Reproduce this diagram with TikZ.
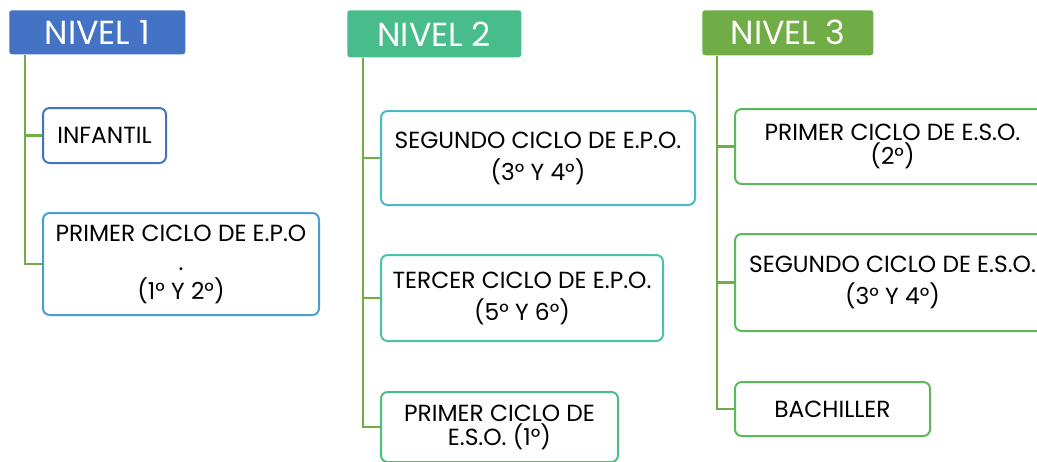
\documentclass[tikz,border=0pt]{standalone}
\usepackage{fontspec}
\setmainfont{Poppins}
\usetikzlibrary{positioning}
\definecolor{nvblue}{HTML}{4472C4}
\definecolor{nvteal}{HTML}{48BD8B}
\definecolor{nvgreen}{HTML}{70AD47}
\definecolor{bxsky}{HTML}{4A9ED0}
\definecolor{bxcyan}{HTML}{4BB8C8}
\definecolor{bxmint}{HTML}{4BC1A5}
\definecolor{bxjade}{HTML}{4CBD7F}
\definecolor{bxleaf}{HTML}{5DB85B}

\begin{document}
\begin{tikzpicture}[x=0.75pt,y=-0.75pt,
  nivel/.style={fill=#1, text=white, anchor=north west, rounded corners=2pt,
    inner sep=0pt, font=\fontsize{25}{28}\selectfont},
  ciclo/.style={draw=#1, line width=1.5pt, fill=white, anchor=north west,
    rounded corners=5pt, inner sep=0pt, align=center,
    font=\fontsize{17.5}{24}\selectfont},
  rama/.style={draw=nvgreen, line width=1.6pt}]
\useasboundingbox (0,0) rectangle (1037,461);
% Cabeceras de nivel
\node[nivel=nvblue, minimum width=176*0.75pt, minimum height=44*0.75pt] (n1) at (9,10) {NIVEL 1};
\node[nivel=nvteal, minimum width=174*0.75pt, minimum height=47*0.75pt] (n2) at (347,10) {NIVEL 2};
\node[nivel=nvgreen, minimum width=171*0.75pt, minimum height=45*0.75pt] (n3) at (702,10) {NIVEL 3};
% Nivel 1
\node[ciclo=nvblue, minimum width=123*0.75pt, minimum height=55*0.75pt] (inf) at (42,107) {INFANTIL};
\node[ciclo=bxsky, minimum width=276*0.75pt, minimum height=102*0.75pt,
      font=\fontsize{17.5}{21.75}\selectfont] (epo1) at (42,212) {PRIMER CICLO DE E.P.O\\.\\(1° Y 2°)};
% Nivel 2
\node[ciclo=bxcyan, minimum width=314*0.75pt, minimum height=94*0.75pt] (epo2) at (380,110) {SEGUNDO CICLO DE E.P.O.\\(3° Y 4°)};
\node[ciclo=bxmint, minimum width=282*0.75pt, minimum height=86*0.75pt] (epo3) at (380,254) {TERCER CICLO DE E.P.O.\\(5° Y 6°)};
\node[ciclo=bxjade, minimum width=237*0.75pt, minimum height=70*0.75pt,
      font=\fontsize{17.5}{18}\selectfont] (eso1) at (380,391) {PRIMER CICLO DE\\E.S.O. (1°)};
% Nivel 3
\node[ciclo=bxleaf, minimum width=315*0.75pt, minimum height=75*0.75pt,
      font=\fontsize{17.5}{18}\selectfont] (eso2) at (734,108) {PRIMER CICLO DE E.S.O.\\(2°)};
\node[ciclo=bxleaf, minimum width=315*0.75pt, minimum height=97*0.75pt] (eso34) at (734,233) {SEGUNDO CICLO DE E.S.O.\\(3° Y 4°)};
\node[ciclo=bxleaf, minimum width=195*0.75pt, minimum height=54*0.75pt] (bach) at (734,381) {BACHILLER};
% Troncos y ramas
\coordinate (t1) at ([xshift=12pt]n1.south west);
\coordinate (t2) at ([xshift=12pt]n2.south west);
\coordinate (t3) at ([xshift=11.25pt]n3.south west);
\draw[rama] (t1) |- (inf.west);
\draw[rama] (t1) |- (epo1.west);
\draw[rama] (t2) |- (epo2.west);
\draw[rama] (t2) |- (epo3.west);
\draw[rama] (t2) |- (eso1.west);
\draw[rama] (t3) |- (eso2.west);
\draw[rama] (t3) |- (eso34.west);
\draw[rama] (t3) |- (bach.west);
\end{tikzpicture}
\end{document}
